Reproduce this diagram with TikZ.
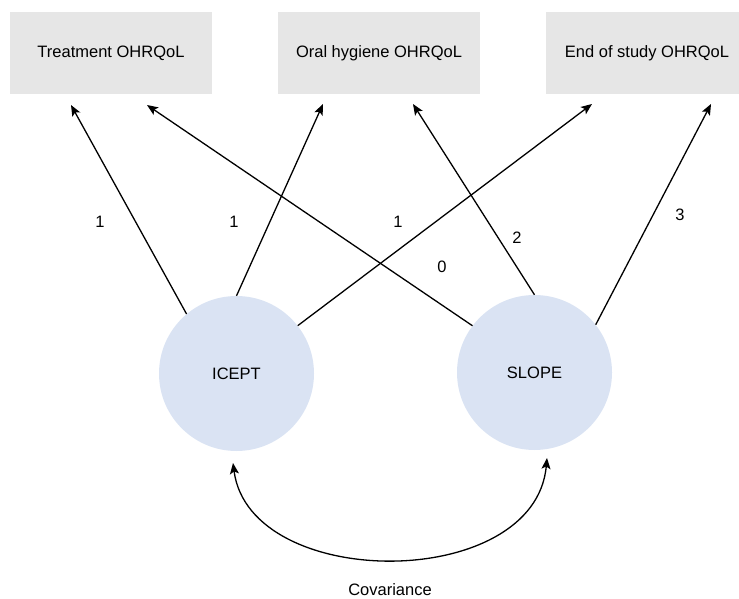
\documentclass[tikz,border=0pt]{standalone}
\usepackage{fontspec}
\setmainfont{Liberation Sans}
\usetikzlibrary{arrows.meta}
\definecolor{boxgray}{RGB}{230,230,230}
\definecolor{latentblue}{RGB}{218,227,243}

\begin{document}
\begin{tikzpicture}[x=1pt,y=1pt,yscale=-1,xscale=1,
  font=\fontsize{16.5}{20}\selectfont,
  obsbox/.style={rectangle, fill=boxgray, minimum width=202pt, minimum height=82pt, inner sep=0pt},
  latent/.style={circle, fill=latentblue, minimum size=155pt, inner sep=0pt},
  loading/.style={line width=1.3pt, -{Stealth[length=11pt,width=9pt,inset=2.5pt]}},
  lbl/.style={inner sep=0.75pt}]
\useasboundingbox (0,0) rectangle (739,599);

%Shape: Rectangle
\node [obsbox] (treat) at (111,53) {Treatment OHRQoL};
%Shape: Rectangle
\node [obsbox] (oral) at (379,53) {Oral hygiene OHRQoL};
%Shape: Rectangle
\node [obsbox] (endst) at (647,53) {End of study OHRQoL};

%Shape: Circle
\node [latent] (icept) at (236.5,373.5) {ICEPT};
%Shape: Circle
\node [latent] (slope) at (534.5,372.5) {SLOPE};

% arrow ends below the boxes
\coordinate (treatA) at (71,105);
\coordinate (treatB) at (147,105);
\coordinate (oralA) at (323,104);
\coordinate (oralB) at (413,104);
\coordinate (endA) at (592,104);
\coordinate (endB) at (711,104);
\coordinate (covA) at (233,463);
\coordinate (covB) at (547,458);

%Straight Lines
\draw [loading] (icept.130) -- (treatA);
\draw [loading] (icept.90) -- (oralA);
\draw [loading] (icept.38) -- (endA);
\draw [loading] (slope.143) -- (treatB);
\draw [loading] (slope.90) -- (oralB);
\draw [loading] (slope.38) -- (endB);

%Curve Lines
\draw [line width=1.3pt, {Stealth[length=11pt,width=9pt,inset=2.5pt]}-{Stealth[length=11pt,width=9pt,inset=2.5pt]}] (covA) .. controls (250,592) and (535,592) .. (covB);

% Text Node
\node [lbl] (l1) at (100,222) {1};
% Text Node
\node [lbl] (l2) at (234,222) {1};
% Text Node
\node [lbl] (l3) at (398,222) {1};
% Text Node
\node [lbl] (l4) at (442,267) {0};
% Text Node
\node [lbl] (l5) at (517,238) {2};
% Text Node
\node [lbl] (l6) at (680,215) {3};
% Text Node
\node [lbl] (cov) at (390,590) {Covariance};

\end{tikzpicture}
\end{document}
